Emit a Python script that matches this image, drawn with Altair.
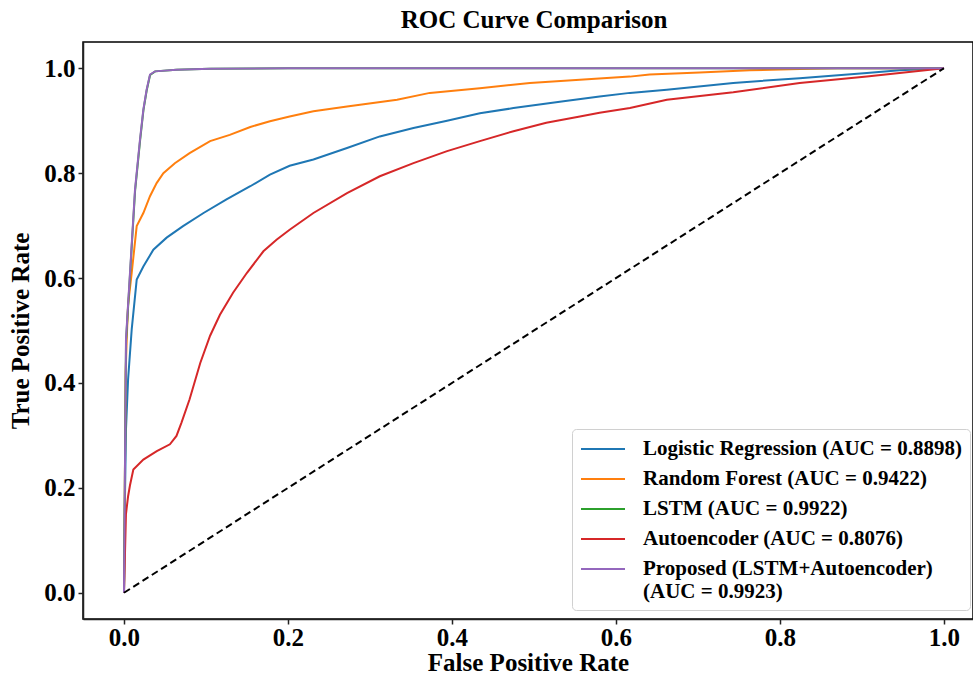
import altair as alt
import pandas as pd

# ---------------- data ----------------
models = [
    "Logistic Regression (AUC = 0.8898)",
    "Random Forest (AUC = 0.9422)",
    "LSTM (AUC = 0.9922)",
    "Autoencoder (AUC = 0.8076)",
    "Proposed (LSTM+Autoencoder)\n\u00a0(AUC = 0.9923)",
]
colors = ["#1f77b4", "#ff7f0e", "#2ca02c", "#d62728", "#9467bd"]

lr_fpr = [0.0, 0.0012, 0.0024, 0.005, 0.0094, 0.0155, 0.0236, 0.0358, 0.052, 0.072, 0.097,
          0.125, 0.154, 0.178, 0.202, 0.231, 0.272, 0.312, 0.353, 0.394, 0.434, 0.475,
          0.536, 0.580, 0.617, 0.662, 0.743, 0.824, 0.906, 0.946, 1.0]
lr_tpr = [0.0, 0.184, 0.311, 0.407, 0.502, 0.597, 0.622, 0.654, 0.677, 0.699, 0.724,
          0.750, 0.775, 0.797, 0.814, 0.826, 0.848, 0.870, 0.886, 0.900, 0.914, 0.924,
          0.937, 0.946, 0.953, 0.959, 0.972, 0.981, 0.991, 0.996, 1.0]

rf_fpr = [0.0, 0.001, 0.002, 0.0033, 0.005, 0.0094, 0.0155, 0.0236, 0.0317, 0.0398, 0.048,
          0.062, 0.080, 0.105, 0.129, 0.154, 0.178, 0.202, 0.231, 0.272, 0.333, 0.373,
          0.434, 0.495, 0.556, 0.617, 0.641, 0.702, 0.763, 0.824, 0.87, 1.0]
rf_tpr = [0.0, 0.2, 0.42, 0.483, 0.55, 0.610, 0.699, 0.724, 0.756, 0.781, 0.800,
          0.819, 0.838, 0.861, 0.873, 0.888, 0.899, 0.908, 0.918, 0.927, 0.940, 0.953,
          0.962, 0.972, 0.978, 0.984, 0.988, 0.992, 0.996, 0.9985, 1.0, 1.0]

lstm_fpr = [0.0, 0.001, 0.002, 0.0025, 0.0074, 0.0135, 0.0196, 0.0237, 0.0277, 0.0318,
            0.038, 0.064, 0.105, 0.2, 0.5, 1.0]
lstm_tpr = [0.0, 0.2, 0.4, 0.48, 0.608, 0.766, 0.862, 0.920, 0.958, 0.987,
            0.994, 0.997, 0.999, 1.0, 1.0, 1.0]

ae_fpr = [0.0, 0.0024, 0.005, 0.0073, 0.0114, 0.0236, 0.040, 0.056, 0.064, 0.070, 0.080,
          0.093, 0.105, 0.117, 0.133, 0.150, 0.170, 0.186, 0.202, 0.231, 0.272, 0.312,
          0.353, 0.394, 0.434, 0.475, 0.515, 0.556, 0.580, 0.617, 0.662, 0.743, 0.824,
          0.906, 1.0]
ae_tpr = [0.0, 0.15, 0.184, 0.205, 0.235, 0.254, 0.270, 0.283, 0.299, 0.324, 0.369,
          0.438, 0.490, 0.530, 0.572, 0.610, 0.651, 0.673, 0.692, 0.724, 0.762, 0.794,
          0.819, 0.842, 0.861, 0.880, 0.896, 0.908, 0.915, 0.924, 0.940, 0.954, 0.972,
          0.984, 1.0]

prop_fpr = [0.0, 0.001, 0.002, 0.0024, 0.0073, 0.0134, 0.0195, 0.0236, 0.0276, 0.0317,
            0.0378, 0.064, 0.105, 0.2, 0.5, 1.0]
prop_tpr = [0.0, 0.2, 0.4, 0.483, 0.610, 0.768, 0.864, 0.921, 0.959, 0.988,
            0.994, 0.997, 0.999, 1.0, 1.0, 1.0]

diag_fpr = [0.0, 1.0]
diag_tpr = [0.0, 1.0]

series = [(lr_fpr, lr_tpr), (rf_fpr, rf_tpr), (lstm_fpr, lstm_tpr),
          (ae_fpr, ae_tpr), (prop_fpr, prop_tpr)]

FONT = "Liberation Serif"

x_scale = alt.Scale(domain=[-0.05, 1.0354], nice=False, zero=False)
y_scale = alt.Scale(domain=[-0.05, 1.05], nice=False, zero=False)
color_scale = alt.Scale(domain=models, range=colors)

x_axis = alt.Axis(values=[0, 0.2, 0.4, 0.6, 0.8, 1.0], format=".1f", title="False Positive Rate",
                  grid=False, titleBaseline="alphabetic", titleY=51, labelPadding=1)
y_axis = alt.Axis(values=[0, 0.2, 0.4, 0.6, 0.8, 1.0], format=".1f", title="True Positive Rate",
                  grid=False, labelPadding=3)

legend = alt.Legend(
    title=None,
    orient="none",
    legendX=489,
    legendY=387,
    symbolType="M-2,0L2,0",
    symbolSize=484,
    symbolOffset=11,
    symbolStrokeWidth=2,
    labelFont=FONT,
    labelFontWeight="bold",
    labelFontSize=21,
    labelLimit=0,
    labelOffset=28,
    rowPadding=8,
    padding=8,
    cornerRadius=4,
    strokeColor="#d0d0d0",
    fillColor="white",
    labelExpr="split(datum.label, '\\n')",
)

layers = []
for i, (fx, fy) in enumerate(series):
    df = pd.DataFrame({"fpr": fx, "tpr": fy, "model": models[i], "idx": range(len(fx))})
    layer = alt.Chart(df).mark_line(strokeWidth=2, clip=True).encode(
        x=alt.X("fpr:Q", scale=x_scale, axis=x_axis),
        y=alt.Y("tpr:Q", scale=y_scale, axis=y_axis),
        order="idx:Q",
        color=alt.Color("model:N", scale=color_scale, sort=models, legend=legend),
    )
    layers.append(layer)

diag_df = pd.DataFrame({"fpr": diag_fpr, "tpr": diag_tpr})
diag = alt.Chart(diag_df).mark_line(color="black", strokeWidth=2, strokeDash=[7, 4]).encode(
    x=alt.X("fpr:Q", scale=x_scale, axis=x_axis),
    y=alt.Y("tpr:Q", scale=y_scale, axis=y_axis),
)
layers.append(diag)

chart = alt.layer(*layers).properties(
    width=890,
    height=577,
    title=alt.TitleParams("ROC Curve Comparison", font=FONT, fontSize=25, fontWeight="bold",
                          anchor="middle", dx=6, offset=9, color="black"),
    autosize=alt.AutoSizeParams(type="none"),
    padding={"left": 83, "top": 42, "right": 0, "bottom": 58},
).configure_view(
    stroke="black", strokeWidth=1.5
).configure_axis(
    labelFont=FONT, labelFontWeight="bold", labelFontSize=25, labelColor="black",
    titleFont=FONT, titleFontWeight="bold", titleFontSize=25, titleColor="black",
    domainColor="#222222", domainWidth=1.5, tickColor="#222222", tickWidth=1.5, tickSize=5,
).configure_axisY(
    titlePadding=10
)

chart.save("out.html", embed_options={"renderer": "svg", "actions": False})
